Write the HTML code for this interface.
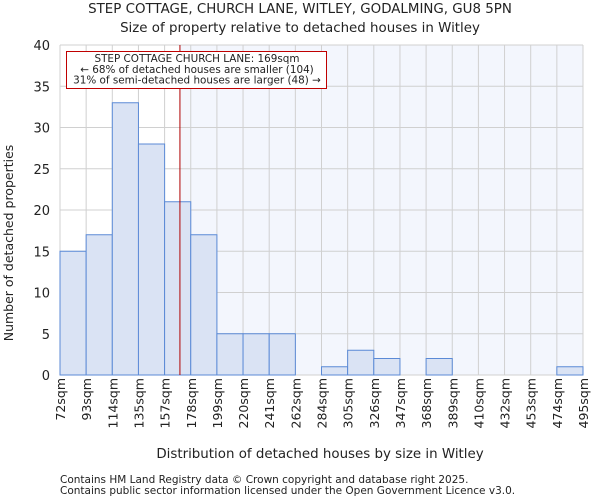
<!DOCTYPE html>
<html><head><meta charset="utf-8"><style>
body{margin:0;background:#fff;font-family:"DejaVu Sans","Liberation Sans",sans-serif;}
text{font-family:"DejaVu Sans","Liberation Sans",sans-serif;fill:#222;}
</style></head><body>
<svg id="c" width="600" height="500">
<text x="300" y="13" text-anchor="middle" font-size="13.4">STEP COTTAGE, CHURCH LANE, WITLEY, GODALMING, GU8 5PN</text>
<text x="300" y="32" text-anchor="middle" font-size="13.4">Size of property relative to detached houses in Witley</text>
<rect x="60" y="45" width="523" height="330" fill="#fff"/>
<rect x="179.5" y="45" width="403.5" height="330" fill="#f3f6fd"/>
<g id="grid"></g><g id="bars"></g><g id="axes"></g>
<text transform="translate(13,243) rotate(-90)" text-anchor="middle" font-size="12.5">Number of detached properties</text>
<text x="320" y="458" text-anchor="middle" font-size="13.4">Distribution of detached houses by size in Witley</text>
<text x="60" y="483" font-size="10.5">Contains HM Land Registry data © Crown copyright and database right 2025.</text>
<text x="60" y="494" font-size="10.5">Contains public sector information licensed under the Open Government Licence v3.0.</text>
</svg>
<script>
const categories=["72sqm","93sqm","114sqm","135sqm","157sqm","178sqm","199sqm","220sqm","241sqm","262sqm","284sqm","305sqm","326sqm","347sqm","368sqm","389sqm","410sqm","432sqm","453sqm","474sqm","495sqm"];
const counts=[15,17,33,28,21,17,5,5,5,0,1,3,2,0,2,0,0,0,0,1];
const yTicks=[0,5,10,15,20,25,30,35,40];
const binStart=72, binWidth=21.15, propertySize=169;
const annotationLines=["STEP COTTAGE CHURCH LANE: 169sqm","← 68% of detached houses are smaller (104)","31% of semi-detached houses are larger (48) →"];
const NS="http://www.w3.org/2000/svg";
const L=60,R=583,T=45,B=375,yMax=40;
const nb=counts.length;
const xs=i=>L+(R-L)*i/nb;
const xv=v=>L+(R-L)*(v-binStart)/(binWidth*nb);
const ys=v=>B-(B-T)*v/yMax;
function mk(tag,at,parent){const e=document.createElementNS(NS,tag);for(const k in at)e.setAttribute(k,at[k]);parent.appendChild(e);return e;}
const grid=document.getElementById('grid'),bars=document.getElementById('bars'),axes=document.getElementById('axes'),svg=document.getElementById('c');
for(let i=0;i<=nb;i++){const l=mk('line',{x1:xs(i),x2:xs(i),y1:T,y2:B,stroke:'#d0d0d0','stroke-width':1},grid);

}
yTicks.forEach(v=>{const l=mk('line',{x1:L,x2:R,y1:ys(v),y2:ys(v),stroke:'#d0d0d0','stroke-width':1},grid);


const t=mk('text',{x:L-10,y:ys(v)+5,'text-anchor':'end','font-size':13},axes);t.textContent=v;

});
counts.forEach((c,i)=>{if(c<=0)return;const r=mk('rect',{x:xs(i),y:ys(c),width:xs(i+1)-xs(i),height:B-ys(c),fill:'#dae3f4',stroke:'#5b8ad6','stroke-width':1},bars);

});
categories.forEach((c,i)=>{const x=xs(i),y=378;const t=mk('text',{x:x+5,y:y,'text-anchor':'end','font-size':12.5,transform:`rotate(-90 ${x+5} ${y})`},axes);t.textContent=c;

});
const pl=mk('line',{x1:xv(propertySize),x2:xv(propertySize),y1:T,y2:B,stroke:'#b00000','stroke-width':1},svg);


const box=mk('rect',{x:66.5,y:51.5,width:260,height:37,fill:'#fff',stroke:'#c00000','stroke-width':1},svg);


annotationLines.forEach((s,i)=>{const t=mk('text',{x:197,y:62+i*10.8,'text-anchor':'middle','font-size':10.4},svg);t.textContent=s;

});
</script>
</body></html>
